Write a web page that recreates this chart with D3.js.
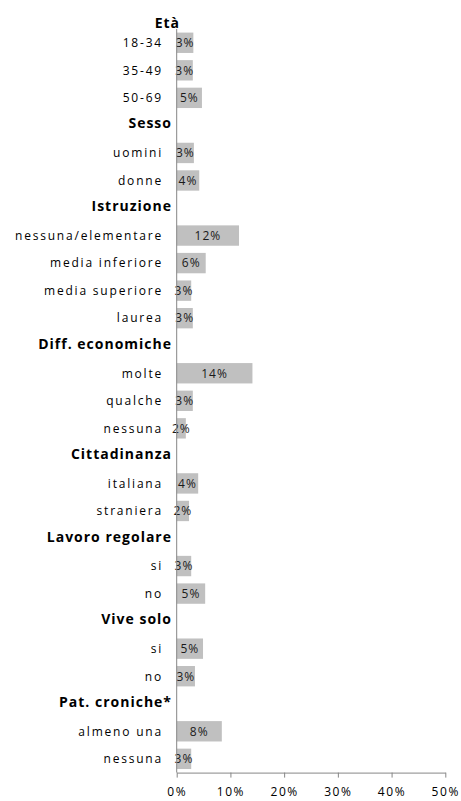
<!DOCTYPE html>
<html>
<head>
<meta charset="utf-8">
<script src="https://cdn.jsdelivr.net/npm/d3@7/dist/d3.min.js"></script>
<style>
  html, body { margin: 0; padding: 0; background: #fff; }
  svg { display: block; }
</style>
</head>
<body>
<svg id="chart" width="461" height="801"></svg>
<script>
// ---- data ----
const topHeader = "Età";
const rows = [
  "18-34", "35-49", "50-69",
  "#Sesso", "uomini", "donne",
  "#Istruzione", "nessuna/elementare", "media inferiore", "media superiore", "laurea",
  "#Diff. economiche", "molte", "qualche", "nessuna ",
  "#Cittadinanza", "italiana", "straniera",
  "#Lavoro regolare", "si", "no",
  "#Vive solo", "si ", "no ",
  "#Pat. croniche*", "almeno una", "nessuna"
];
const values = [
  3.1, 3.0, 4.7,
  null, 3.2, 4.2,
  null, 11.6, 5.4, 2.7, 3.0,
  null, 14.1, 3.0, 1.7,
  null, 4.0, 2.3,
  null, 2.7, 5.3,
  null, 4.9, 3.4,
  null, 8.4, 2.7
];
const valueLabels = [
  "3%", "3%", "5%",
  null, "3%", "4%",
  null, "12%", "6%", "3%", "3%",
  null, "14%", "3%", "2%",
  null, "4%", "2%",
  null, "3%", "5%",
  null, "5%", "3%",
  null, "8%", "3%"
];
const xTicks = [0, 10, 20, 30, 40, 50];

// ---- layout ----
const svg = d3.select("#chart");
const x0 = 176.7, x1 = 445.3;
const yTop = 29, yBot = 772.6;

const x = d3.scaleLinear().domain([0, 50]).range([x0, x1]);
const y = d3.scaleBand().domain(rows.map((d, i) => i)).range([yTop, yBot]).paddingInner(0.26).paddingOuter(0.13);

const font = "'Open Sans', Lato, sans-serif";
const isHead = r => r.startsWith("#");

// bars
svg.append("g").selectAll("rect")
  .data(values.map((v, i) => ({ v, i })).filter(d => d.v !== null))
  .join("rect")
  .attr("x", x(0))
  .attr("y", d => y(d.i))
  .attr("width", d => x(d.v) - x(0))
  .attr("height", y.bandwidth())
  .attr("fill", "#c0c0c0");

// value labels
svg.append("g").selectAll("text")
  .data(values.map((v, i) => ({ v, i, l: valueLabels[i] })).filter(d => d.v !== null))
  .join("text")
  .attr("x", d => (x(0) + x(d.v)) / 2)
  .attr("y", d => y(d.i) + y.bandwidth() / 2)
  .attr("dy", "0.36em")
  .attr("text-anchor", "middle")
  .attr("font-family", font)
  .attr("font-size", "12px")
  .attr("letter-spacing", "1px")
  .attr("fill", "#1a1a1a")
  .text(d => d.l);

// category labels
svg.append("g").selectAll("text")
  .data(rows.map((r, i) => ({ r, i })))
  .join("text")
  .attr("x", d => isHead(d.r) ? 172 : 163)
  .attr("y", d => y(d.i) + y.bandwidth() / 2 + (isHead(d.r) ? -2 : 0))
  .attr("dy", "0.36em")
  .attr("text-anchor", "end")
  .attr("font-family", font)
  .attr("font-size", d => isHead(d.r) ? "14px" : "12px")
  .attr("font-weight", d => isHead(d.r) ? "bold" : "normal")
  .attr("letter-spacing", d => isHead(d.r) ? "1px" : "1.8px")
  .attr("fill", "#000")
  .text(d => d.r.replace("#", "").trim());

// top header
svg.append("text")
  .attr("x", 180)
  .attr("y", y(0) + y.bandwidth() / 2 - y.step() * 0.72)
  .attr("dy", "0.36em")
  .attr("text-anchor", "end")
  .attr("font-family", font)
  .attr("font-size", "14px")
  .attr("font-weight", "bold")
  .attr("letter-spacing", "1px")
  .text(topHeader);

// vertical axis line
svg.append("line")
  .attr("x1", x(0)).attr("x2", x(0))
  .attr("y1", yTop).attr("y2", yBot)
  .attr("stroke", "#868686").attr("stroke-width", 1);

// x axis
const xAxis = d3.axisBottom(x)
  .tickValues(xTicks)
  .tickFormat(d => d + "%")
  .tickSizeInner(5)
  .tickSizeOuter(0)
  .tickPadding(10);

const gx = svg.append("g")
  .attr("transform", `translate(0,${yBot})`)
  .call(xAxis);
gx.select(".domain").attr("stroke", "#868686");
gx.selectAll(".tick line").attr("stroke", "#868686");
gx.selectAll(".tick text")
  .attr("font-family", font)
  .attr("font-size", "12px")
  .attr("letter-spacing", "1.6px")
  .attr("fill", "#000");
</script>
</body>
</html>
